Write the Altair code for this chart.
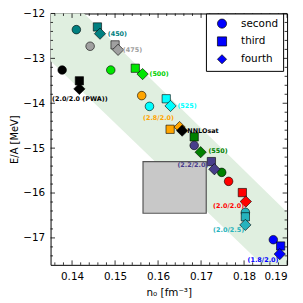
import altair as alt
import pandas as pd

# ---------------- data ----------------
series_names = ["(450)", "(475)", "(2.0/2.0 (PWA))", "(500)", "(2.8/2.0)", "(525)",
                "(550)", "(2.2/2.0)", "(2.0/2.0)", "(2.0/2.5)", "(1.8/2.0)"]
series_colors = ["#008080", "#a0a0a0", "#000000", "#00e600", "#ffa500", "#00ffff",
                 "#008000", "#483d8b", "#ff0000", "#26b3bd", "#0000ff"]

n_second = [0.1410, 0.1442, 0.1377, 0.1490, 0.1562, 0.1580, 0.1748, 0.1684, 0.1764, 0.1803, 0.1868]
e_second = [-12.36, -12.73, -13.26, -13.26, -13.83, -14.07, -15.54, -14.94, -15.74, -16.43, -17.04]
n_third = [0.1459, 0.1500, 0.1417, 0.1547, 0.1628, 0.1619, 0.1684, 0.1724, 0.1796, 0.1803, 0.1885]
e_third = [-12.30, -12.70, -13.50, -13.22, -14.58, -13.90, -14.75, -15.30, -15.99, -16.53, -17.18]
n_fourth = [0.1465, 0.1507, 0.1417, 0.1564, 0.1650, 0.1629, 0.1699, 0.1731, 0.1804, 0.1803, 0.1883]
e_fourth = [-12.45, -12.81, -13.68, -13.35, -14.53, -14.06, -15.09, -15.47, -16.19, -16.71, -17.36]

nnlosat_n = [0.1656]
nnlosat_e = [-14.61]

label_text = ["(450)", "(475)", "(2.0/2.0 (PWA))", "(500)", "(2.8/2.0)", "(525)", "NNLOsat",
              "(550)", "(2.2/2.0)", "(2.0/2.0)", "(2.0/2.5)", "(1.8/2.0)"]
label_n = [0.1483, 0.1518, 0.1418, 0.1580, 0.1601, 0.1645, 0.1668, 0.1717, 0.1681, 0.1764, 0.1764, 0.1844]
label_e = [-12.45, -12.82, -13.90, -13.34, -14.32, -14.07, -14.61, -15.07, -15.38, -16.30, -16.82, -17.49]
label_align = ["left", "left", "center", "left", "center", "left", "left",
               "left", "center", "center", "center", "center"]
label_colors = ["#008080", "#a0a0a0", "#000000", "#00d000", "#ffa500", "#00ffff", "#000000",
                "#008000", "#483d8b", "#ff0000", "#26b3bd", "#0000ff"]

band_n = [0.135, 0.19]
band_upper = [-11.27, -16.43]
band_lower = [-13.06, -18.13]

box_n = [0.1565, 0.1712]
box_e = [-16.45, -15.30]

x_major = [0.14, 0.15, 0.16, 0.17, 0.18, 0.19]
x_minor = [0.136, 0.138, 0.142, 0.144, 0.146, 0.148, 0.152, 0.154, 0.156, 0.158,
           0.162, 0.164, 0.166, 0.168, 0.172, 0.174, 0.176, 0.178, 0.182, 0.184, 0.186, 0.188]
y_major = [-17, -16, -15, -14, -13, -12]
y_minor = [-17.4, -17.2, -16.8, -16.6, -16.4, -16.2, -15.8, -15.6, -15.4, -15.2,
           -14.8, -14.6, -14.4, -14.2, -13.8, -13.6, -13.4, -13.2, -12.8, -12.6, -12.4, -12.2]

shape_sizes = {"second": 75, "third": 70, "fourth": 130}

W, H = 239, 254
FONT = "DejaVu Sans"

# ---------------- tables ----------------
rows = []
for i in range(len(series_names)):
    rows.append(dict(n=n_second[i], e=e_second[i], order="second", col=series_colors[i], k=3 * i))
    rows.append(dict(n=n_third[i], e=e_third[i], order="third", col=series_colors[i], k=3 * i + 1))
    rows.append(dict(n=n_fourth[i], e=e_fourth[i], order="fourth", col=series_colors[i], k=3 * i + 2))
for i in range(len(nnlosat_n)):
    rows.append(dict(n=nnlosat_n[i], e=nnlosat_e[i], order="fourth", col="#000000", k=100 + i))
pts = pd.DataFrame(rows)
pts["sz"] = pts["order"].map(shape_sizes)

labels = pd.DataFrame(dict(t=label_text, n=label_n, e=label_e, a=label_align, c=label_colors))
band = pd.DataFrame(dict(n=band_n, up=band_upper, lo=band_lower))
box = pd.DataFrame(dict(n=[box_n[0]], n2=[box_n[1]], e=[box_e[0]], e2=[box_e[1]]))

xs = alt.Scale(domain=[0.135, 0.19], nice=False, zero=False)
ys = alt.Scale(domain=[-17.6, -12], nice=False, zero=False)
x_axis = alt.Axis(values=x_major, format=".2f", ticks=False, tickSize=0, domain=False, grid=False,
                  labelPadding=7, title="n₀ [fm⁻³]", titlePadding=5)
y_axis = alt.Axis(values=y_major, format="d", ticks=False, tickSize=0, domain=False, grid=False,
                  labelPadding=6, title="E/A [MeV]", titlePadding=3, titleFontSize=10)

def X(f):
    return alt.X(f, scale=xs, axis=x_axis)

def Y(f):
    return alt.Y(f, scale=ys, axis=y_axis)

band_layer = alt.Chart(band).mark_area(clip=True, color="#e0efe0", opacity=1).encode(
    x=X("n:Q"), y=Y("up:Q"), y2="lo:Q",
)

box_layer = alt.Chart(box).mark_rect(fill="#c8c8c8", stroke="#555555", strokeWidth=1.2).encode(
    x=X("n:Q"), x2="n2:Q", y=Y("e:Q"), y2="e2:Q",
)

points = alt.Chart(pts).mark_point(filled=True, opacity=1, stroke="black", strokeWidth=0.6).encode(
    x=X("n:Q"),
    y=Y("e:Q"),
    shape=alt.Shape("order:N",
                    scale=alt.Scale(domain=["second", "third", "fourth"], range=["circle", "square", "diamond"]),
                    legend=alt.Legend(orient="none", legendX=157, legendY=0, title=None,
                                      fillColor="white", strokeColor="black", padding=5, cornerRadius=0,
                                      symbolSize=85, symbolFillColor="blue", symbolStrokeColor="black",
                                      symbolStrokeWidth=0.7, labelFont=FONT, labelFontSize=10.5,
                                      labelColor="black", rowPadding=5, symbolOffset=6, labelOffset=14)),
    size=alt.Size("sz:Q", scale=None),
    fill=alt.Fill("col:N", scale=None),
    order=alt.Order("k:Q"),
)

def text_layer(align):
    return alt.Chart(labels).transform_filter(alt.datum.a == align).mark_text(
        font=FONT, fontSize=6.5, fontWeight="bold", baseline="middle", align=align
    ).encode(
        x=X("n:Q"), y=Y("e:Q"),
        text="t:N",
        color=alt.Color("c:N", scale=None),
    )

def tick_layer(vals, axis, length):
    df = pd.DataFrame(dict(v=vals))
    base = alt.Chart(df).mark_rule(color="black", strokeWidth=0.8)
    if axis == "x":
        bottom = base.encode(x=X("v:Q"), y=alt.value(H), y2=alt.value(H - length))
        top = base.encode(x=X("v:Q"), y=alt.value(0), y2=alt.value(length))
        return [bottom, top]
    left = base.encode(y=Y("v:Q"), x=alt.value(0), x2=alt.value(length))
    right = base.encode(y=Y("v:Q"), x=alt.value(W), x2=alt.value(W - length))
    return [left, right]

ticks = (tick_layer(x_major, "x", 4.5) + tick_layer(x_minor, "x", 2.5)
         + tick_layer(y_major, "y", 4.5) + tick_layer(y_minor, "y", 2.5))

chart = alt.layer(band_layer, box_layer, points, text_layer("left"), text_layer("center"), *ticks).properties(
    width=W, height=H,
    autosize=alt.AutoSizeParams(type="none"),
    padding={"left": 43, "top": 4, "right": 8, "bottom": 35},
).configure_view(stroke="black", strokeWidth=1).configure_axis(
    labelFont=FONT, labelFontSize=10.5, labelColor="black",
    titleFont=FONT, titleFontSize=10.5, titleFontWeight="normal", titleColor="black",
)

chart.save("out.html", embed_options={"renderer": "svg", "actions": False})
